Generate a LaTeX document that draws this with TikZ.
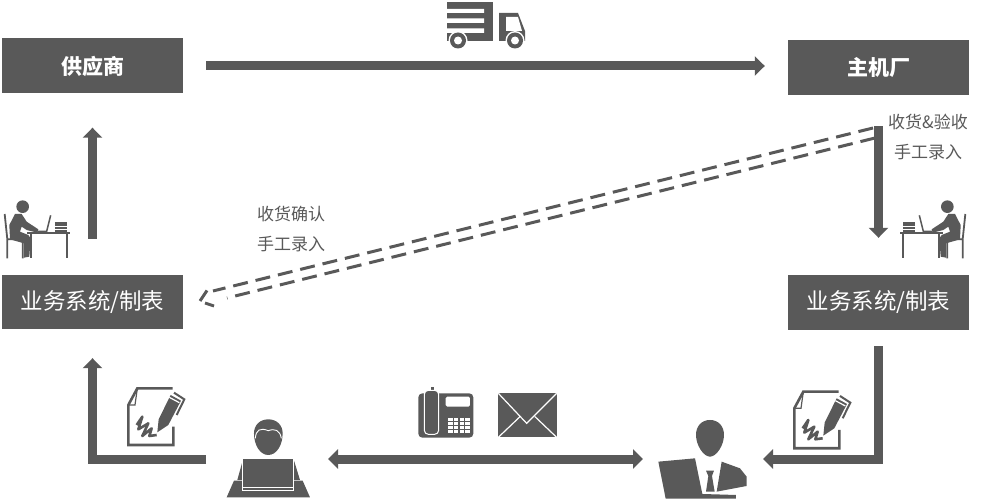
\documentclass[tikz,border=0pt]{standalone}
\usepackage{fontspec}
\setmainfont{Noto Sans CJK SC}
\usetikzlibrary{arrows.meta}
\definecolor{ink}{HTML}{595959}
\tikzset{
  box/.style={fill=ink,draw=none,text=white,minimum width=181pt,inner sep=0pt,font=\fontsize{22.5}{24}\selectfont},
  boldbox/.style={box,font=\fontsize{21}{22}\selectfont\bfseries},
  note/.style={text=ink,font=\fontsize{17}{20}\selectfont,inner sep=0pt},
  flow/.style={draw=ink,line width=9pt,miter limit=10},
  tip/.style={-{Triangle[length=10pt,width=19pt]}},
  dtip/.style={{Triangle[length=10pt,width=19pt]}-{Triangle[length=10pt,width=19pt]}},
  dashline/.style={draw=ink,line width=3pt,dash pattern=on 15pt off 8pt},
  dart/.style={draw=ink,line width=3pt},
  cut/.style={draw=white,line width=1.2pt},
  pics/truck/.style={code={
    \fill[ink] (447,2) rectangle (493,41);
    \fill[white] (447,9) rectangle (484,13) (447,18.5) rectangle (484,23) (447,28.5) rectangle (484,33);
    \fill[ink] (499,13) -- (518,13) -- (525,31) -- (525,41) -- (499,41) -- cycle;
    \fill[white] (506,17) -- (518,17) -- (522,31) -- (506,31) -- cycle;
    \foreach \c in {458,515}{
      \fill[white] (\c,40.5) circle (9.5);
      \fill[ink] (\c,40.5) circle (8);
      \fill[white] (\c,40.5) circle (4);}
  }},
  pics/deskman/.style={code={
    \begin{scope}[scale=0.3333]
    \fill[ink] (68,50) circle (19);
    \fill[ink] (45,72) -- (65,72) -- (80,95) -- (115,118) -- (112,128) -- (80,120) -- (65,110)
      -- (60,125) -- (85,135) -- (92,145) -- (88,200) -- (72,203) -- (72,160) -- (30,148) -- (28,105) -- cycle;
    \draw[ink,line width=1.8pt] (14,72) -- (22,148) -- (22,205) (22,148) -- (68,148) -- (68,205);
    \draw[ink,line width=1.8pt] (82,128) -- (210,128) (92,128) -- (92,205) (200,128) -- (200,205);
    \draw[ink,line width=1.5pt] (152,76) -- (140,124) -- (112,124);
    \foreach \y in {98,106,114,122}{\draw[ink,line width=2pt] (165,\y) -- (200,\y);}
    \end{scope}
  }},
  pics/pendoc/.style={code={
    \begin{scope}[scale=0.3333]
    \draw[ink,line width=2.6pt,line join=miter] (280,170) -- (280,225) -- (145,225) -- (145,105) -- (172,55) -- (278,55);
    \draw[ink,line width=1.2pt] (172,55) -- (165,105) -- (145,105);
    \fill[ink] (232,187) -- (236,148) -- (272,75) -- (303,92) -- (265,165) -- cycle;
    \draw[white,line width=1.2pt] (268,82) -- (298,98);
    \draw[ink,line width=2pt] (282,68) -- (313,88) -- (290,135);
    \draw[ink,line width=2.6pt,line join=round] (170,165) -- (187,140) -- (175,178) -- (205,160) -- (187,198) -- (215,175) -- (208,198) -- (230,195);
    \end{scope}
  }},
  pics/clerkicon/.style={code={
    \begin{scope}[scale=0.3333]
    \fill[ink] (522,190) .. controls (522,165) and (540,148) .. (565,148) .. controls (590,148) and (608,165) .. (608,190)
      .. controls (608,225) and (590,255) .. (565,255) .. controls (540,255) and (522,225) .. (522,190) -- cycle;
    \draw[white,line width=.9pt] (526,205) .. controls (528,180) and (540,172) .. (565,182) .. controls (585,175) and (600,180) .. (604,205);
    \fill[ink] (490,265) -- (640,265) -- (660,330) -- (490,330) -- (472,330) -- cycle;
    \fill[ink] (462,332) -- (668,332) -- (690,382) -- (440,382) -- cycle;
    \fill[ink,draw=white,line width=.9pt] (488,265) rectangle (640,352);
    \fill[ink,draw=white,line width=.9pt] (488,352) rectangle (640,362);
    \end{scope}
  }},
  pics/mgricon/.style={code={
    \begin{scope}[scale=0.3333]
    \fill[ink] (168,285) .. controls (168,258) and (185,240) .. (210,240) .. controls (235,240) and (252,258) .. (252,285)
      .. controls (252,315) and (230,350) .. (210,350) .. controls (190,350) and (168,315) .. (168,285) -- cycle;
    \fill[ink] (55,365) -- (165,355) -- (187,462) -- (288,465) -- (288,476) -- (77,476) -- cycle;
    \fill[ink] (245,365) -- (300,385) -- (320,410) -- (320,438) -- (230,455) -- cycle;
    \fill[ink] (198,392) -- (222,392) -- (216,408) -- (224,455) -- (198,455) -- (205,408) -- cycle;
    \end{scope}
  }},
  pics/phone/.style={code={
    \begin{scope}[scale=0.3333]
    \fill[ink,rounded corners=4pt] (55,55) rectangle (220,188);
    \fill[ink] (92,36) rectangle (102,50);
    \fill[ink,draw=white,line width=1pt,rounded corners=4pt] (73,46) rectangle (116,178);
    \fill[white,rounded corners=1.5pt] (137,65) rectangle (210,95);
    \foreach \x in {145,162,179,196}{\foreach \y in {128,141,154,166}{
      \fill[white] (\x,\y) rectangle ++(13,9);}}
    \end{scope}
  }},
  pics/envelope/.style={code={
    \begin{scope}[scale=0.3333]
    \fill[ink] (295,55) rectangle (470,187);
    \draw[cut] (295,55) -- (380,145) -- (470,55) (295,187) -- (360,125) (470,187) -- (405,125);
    \end{scope}
  }}
}
\begin{document}
\begin{tikzpicture}[x=1pt,y=-1pt]
\useasboundingbox (0,0) rectangle (983,500);
% boxes
\node[boldbox,minimum height=55pt] (sup) at (92.5,66) {供应商};
\node[boldbox,minimum height=55pt] (host) at (878.5,67.5) {主机厂};
\node[box,minimum height=54pt] (sys1) at (92.5,302) {业务系统/制表};
\node[box,minimum height=55pt] (sys2) at (878.5,302.5) {业务系统/制表};
% labels
\node[note] (lbla) at (291,214) {收货确认};
\node[note] (lblb) at (291,244) {手工录入};
\node[note] (lblc) at (928,122) {收货\&验收};
\node[note] (lbld) at (928,152) {手工录入};
% anchors for people
\coordinate (clerk) at (268,459);
\coordinate (mgr) at (704,459);
\coordinate (hostin) at (host.west |- sup.east);
\coordinate (hostA) at (873,128);
\coordinate (hostB) at (875,138);
\coordinate (sysA) at (213,291);
\coordinate (sysB) at (227,298);
\coordinate (headA) at (207,290.5);
\coordinate (headB) at (200,301);
\coordinate (headC) at (205,303);
\coordinate (headD) at (214,306);
% connectors
\draw[flow,tip,shorten <=23pt,shorten >=23pt] (sup.east) -- (hostin);
\draw[flow,tip,shorten <=36pt,shorten >=34pt] (sys1.north) -- (sup.south);
\draw[flow,tip,shorten <=31pt,shorten >=37pt] (host.south) -- (sys2.north);
\draw[flow,tip,shorten <=62pt,shorten >=29pt] (clerk) -| (sys1.south);
\draw[flow,tip,shorten <=16pt,shorten >=59pt] (sys2.south) |- (mgr);
\draw[flow,dtip,shorten <=60pt,shorten >=61pt] (clerk) -- (mgr);
\draw[dashline] (hostA) -- (sysA);
\draw[dashline] (hostB) -- (sysB);
\draw[dart] (headA) -- (headB);
\draw[dart] (headC) -- (headD);
% icons
\pic at (0,0) {truck};
\pic at (0,190) {deskman};
\pic[xscale=-1] at (970,190) {deskman};
\pic at (80,370) {pendoc};
\pic at (746,373.3) {pendoc};
\pic at (80,370) {clerkicon};
\pic at (640,340) {mgricon};
\pic at (400,375) {phone};
\pic at (400,375) {envelope};
\end{tikzpicture}
\end{document}
